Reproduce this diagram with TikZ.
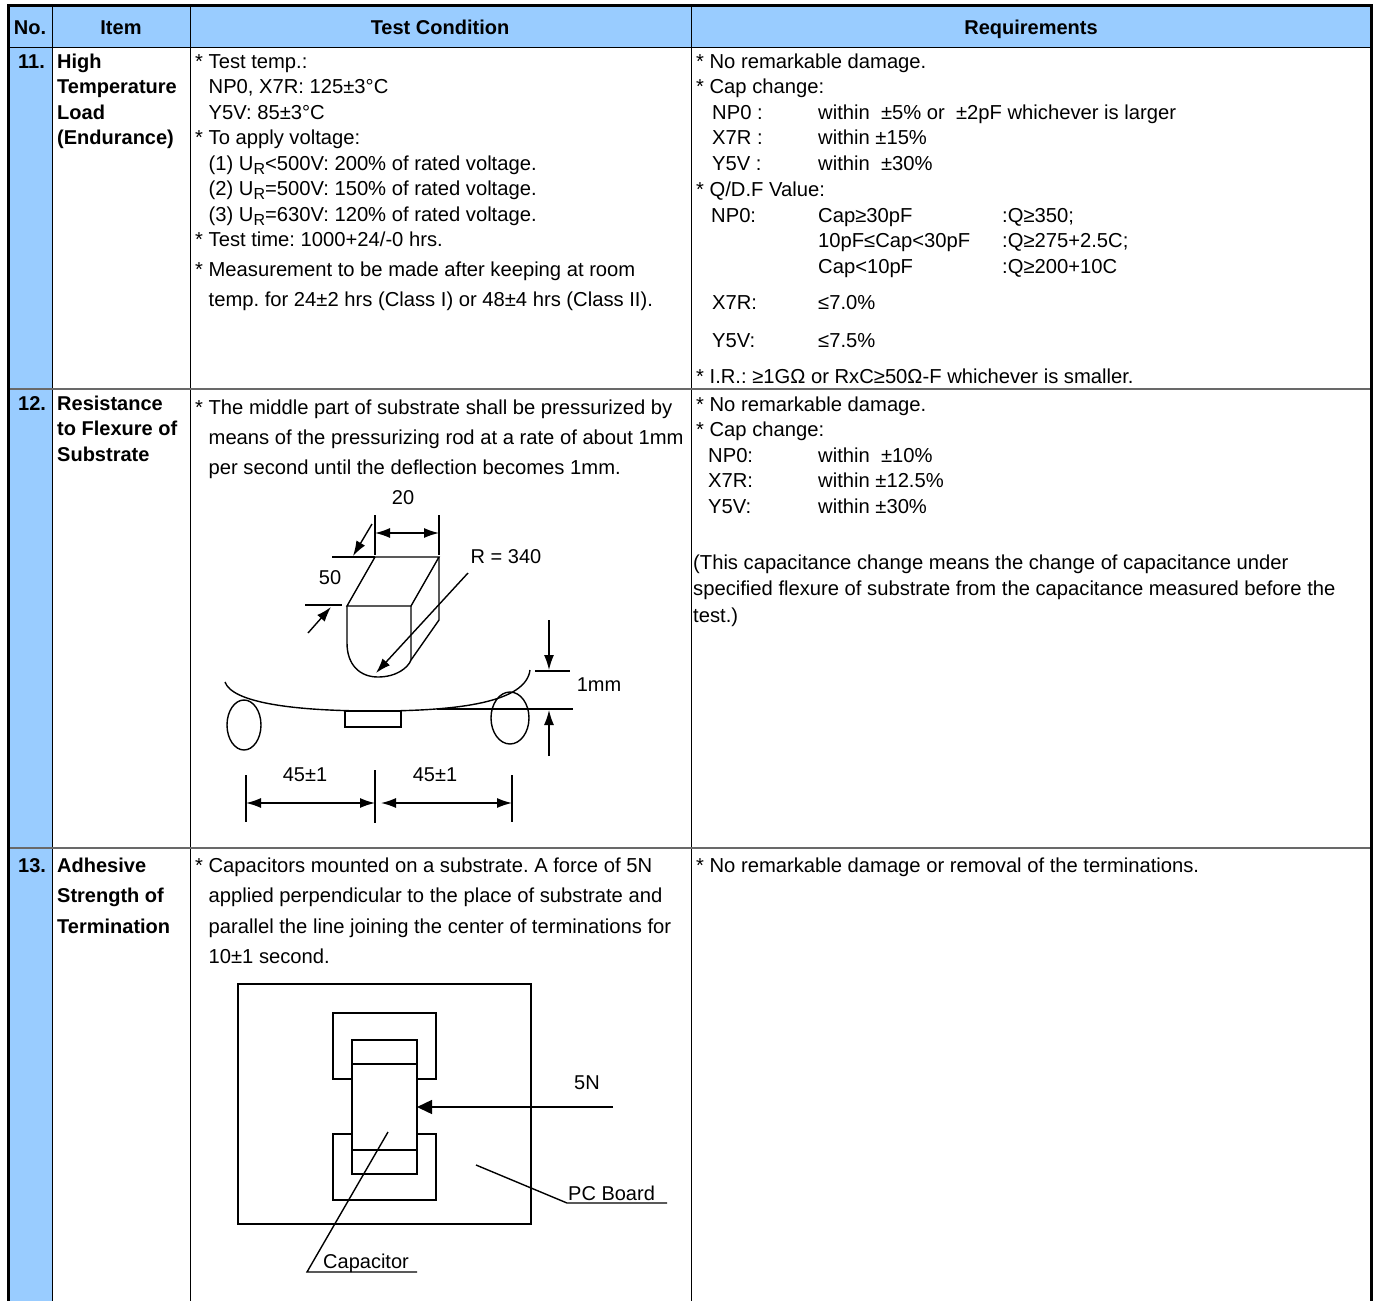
\documentclass[tikz,border=0pt]{standalone}
\usepackage{fontspec}
\setmainfont{Liberation Sans}
\usetikzlibrary{positioning, arrows, arrows.meta}
\definecolor{headblue}{RGB}{153,204,255}
\definecolor{rowgray}{RGB}{105,105,105}
\newcommand{\subR}{\raisebox{-4pt}{\fontsize{16}{16}\selectfont R}}
\newcommand{\ind}{\hphantom{* }}

\begin{document}
\frenchspacing
\begin{tikzpicture}[x=1pt, y=-1pt,
    txt/.style={anchor=base west, inner sep=0pt, align=left,
        font=\fontsize{20.2}{25.5}\selectfont},
    itm/.style={anchor=base west, inner sep=0pt, align=left,
        font=\fontsize{20}{25.5}\selectfont\bfseries},
    hdr/.style={anchor=base, inner sep=0pt,
        font=\fontsize{20}{24}\selectfont\bfseries},
    lbl/.style={inner sep=0pt, font=\fontsize{20}{24}\selectfont},
    part/.style={line width=1.4pt},
    dim/.style={line width=1.4pt,
        {Latex[length=15pt,width=10pt]}-{Latex[length=15pt,width=10pt]}},
    pointer/.style={line width=1.4pt, -{Latex[length=15pt,width=10pt]}}
    ]
    \useasboundingbox (0,0) rectangle (1377,1301);
    % multi-line nodes: base anchor sits on the last line

    % blue header and number column
    \fill [headblue] (8,5) rectangle (1371,47);
    \fill [headblue] (8,47) rectangle (52,1301);

    % grid
    \draw [line width=1pt] (52,5) -- (52,1301);
    \draw [line width=1pt] (190,5) -- (190,1301);
    \draw [line width=1pt] (691,5) -- (691,1301);
    \draw [line width=1pt] (8,47) -- (1371,47);
    \draw [rowgray, line width=2pt] (8,389) -- (1371,389);
    \draw [rowgray, line width=2pt] (8,848) -- (1371,848);
    \draw [line width=3pt] (8,1301) -- (8,5) -- (1371,5) -- (1371,1301);

    % header
    \node [hdr] (h no) at (30,34) {No.};
    \node [hdr] (h item) at (121,34) {Item};
    \node [hdr] (h cond) at (440,34) {Test Condition};
    \node [hdr] (h req) at (1031,34) {Requirements};

    % ---- 11. High Temperature Load ----
    \node [itm] (no 11) at (18,68) {11.};
    \node [itm] (item 11) at (57,144.5) {High\\Temperature\\Load\\(Endurance)};
    \node [txt] (cond 11) at (195,306.5) {
        * Test temp.:\\
        \ind NP0, X7R: 125±3°C\\
        \ind Y5V: 85±3°C\\
        * To apply voltage:\\
        \ind (1) U\subR<500V: 200\% of rated voltage.\\
        \ind (2) U\subR=500V: 150\% of rated voltage.\\
        \ind (3) U\subR=630V: 120\% of rated voltage.\\
        * Test time: 1000+24/-0 hrs.\\[4.5pt]
        * Measurement to be made after keeping at room\\[4.5pt]
        \ind temp. for 24±2 hrs (Class I) or 48±4 hrs (Class II).};

    \node [txt] (req 11) at (696,93.5) {* No remarkable damage.\\* Cap change:};
    \node [txt] (cap class 11) at (712,170) {NP0 :\\X7R :\\Y5V :};
    \node [txt] (cap limit 11) at (818,170) {
        within\ \ ±5\% or \ ±2pF whichever is larger\\
        within ±15\%\\
        within\ \ ±30\%};
    \node [txt] (qdf) at (696,196) {* Q/D.F Value:};
    \node [txt] (qdf np0) at (711,222) {NP0:};
    \node [txt] (qdf cap) at (818,273) {Cap≥30pF\\10pF≤Cap<30pF\\Cap<10pF};
    \node [txt] (qdf q) at (1002,273) {:Q≥350;\\:Q≥275+2.5C;\\:Q≥200+10C};
    \node [txt, font=\fontsize{20.2}{38}\selectfont] (qdf class) at (712,347) {X7R:\\Y5V:};
    \node [txt, font=\fontsize{20.2}{38}\selectfont] (qdf limit) at (818,347) {≤7.0\%\\≤7.5\%};
    \node [txt] (ir) at (696,383) {* I.R.: ≥1GΩ or RxC≥50Ω-F whichever is smaller.};

    % ---- 12. Resistance to Flexure of Substrate ----
    \node [itm] (no 12) at (18,410) {12.};
    \node [itm] (item 12) at (57,461) {Resistance\\to Flexure of\\Substrate};
    \node [txt, font=\fontsize{20.2}{30}\selectfont] (cond 12) at (195,474) {
        * The middle part of substrate shall be pressurized by\\
        \ind means of the pressurizing rod at a rate of about 1mm\\
        \ind per second until the deflection becomes 1mm.};

    % pressurizing rod
    \draw [part] (347,606) -- (375,557) -- (439,557) -- (411,606) -- cycle;
    \draw [part] (347,606) -- (347,643)
        .. controls (347,665) and (360,677) .. (378,677)
        .. controls (396,677) and (408,668) .. (411,660) -- (411,606);
    \draw [part] (439,557) -- (439,620) -- (411,660);
    % width 20
    \draw [part] (375,515) -- (375,555);
    \draw [part] (439,515) -- (439,555);
    \draw [dim] (375,533) -- (439,533);
    \node [lbl] (w20) at (403,498) {20};
    % depth 50
    \draw [part] (332,557) -- (375,557);
    \draw [part] (305,605) -- (342,605);
    \draw [pointer] (372,524) -- (353,556);
    \draw [pointer] (308,633) -- (331,607);
    \node [lbl] (d50) at (330,578) {50};
    % radius
    \node [lbl] (r340) at (506,557) {R = 340};
    \draw [pointer] (468,573) -- (376,673);
    % bent substrate and supports
    \draw [part] (225,682) .. controls (232,702) and (290,711) .. (375,711)
        .. controls (460,711) and (526,702) .. (530,670);
    \draw [part] (345,711) rectangle (401,727);
    \draw [part] (244,725) ellipse [x radius=17, y radius=25];
    \draw [part] (510,718) ellipse [x radius=19, y radius=26];
    % deflection 1mm
    \draw [part] (535,671) -- (570,671);
    \draw [part] (437,709) -- (573,709);
    \draw [pointer] (549,620) -- (549,670);
    \draw [pointer] (549,756) -- (549,710);
    \node [lbl] (defl) at (599,685) {1mm};
    % span 45 +/- 1
    \draw [part] (246,775) -- (246,822);
    \draw [part] (375,770) -- (375,823);
    \draw [part] (512,775) -- (512,822);
    \draw [dim] (246,803) -- (375,803);
    \draw [dim] (381,803) -- (512,803);
    \node [lbl] (span left) at (305,775) {45±1};
    \node [lbl] (span right) at (435,775) {45±1};

    \node [txt] (req 12) at (696,436.5) {* No remarkable damage.\\* Cap change:};
    \node [txt] (cap class 12) at (708,513) {NP0:\\X7R:\\Y5V:};
    \node [txt] (cap limit 12) at (818,513) {within\ \ ±10\%\\within ±12.5\%\\within ±30\%};
    \node [txt, font=\fontsize{20.2}{26.5}\selectfont] (note 12) at (693,622) {
        (This capacitance change means the change of capacitance under\\
        specified flexure of substrate from the capacitance measured before the\\
        test.)};

    % ---- 13. Adhesive Strength of Termination ----
    \node [itm] (no 13) at (18,872) {13.};
    \node [itm, font=\fontsize{20}{30.5}\selectfont\bfseries] (item 13) at (57,933)
        {Adhesive\\Strength of\\Termination};
    \node [txt, font=\fontsize{20.2}{30.5}\selectfont] (cond 13) at (195,963.5) {
        * Capacitors mounted on a substrate. A force of 5N\\
        \ind applied perpendicular to the place of substrate and\\
        \ind parallel the line joining the center of terminations for\\
        \ind 10±1 second.};

    % board with mounted capacitor
    \draw [part] (238,984) rectangle (531,1224);
    \draw [part] (333,1013) rectangle (436,1079);
    \draw [part] (333,1134) rectangle (436,1200);
    \filldraw [part, fill=white] (352,1040) rectangle (417,1174);
    \draw [part] (352,1064) -- (417,1064);
    \draw [part] (352,1150) -- (417,1150);
    \coordinate (cap side) at (417,1107);
    \coordinate (push end) at (613,1107);
    \draw [line width=1.4pt, -{Triangle[length=15pt,width=14pt]}] (push end) -- (cap side);
    \node [lbl] (force) at (587,1083) {5N};
    \node [lbl, anchor=base west] (pcb) at (568,1200) {PC Board};
    \draw [part] (476,1165) -- (567,1203) -- (667,1203);
    \node [lbl, anchor=base west] (capacitor) at (323,1268) {Capacitor};
    \draw [part] (388,1132) -- (307,1272) -- (417,1272);

    \node [txt] (req 13) at (696,872) {* No remarkable damage or removal of the terminations.};
\end{tikzpicture}
\end{document}
